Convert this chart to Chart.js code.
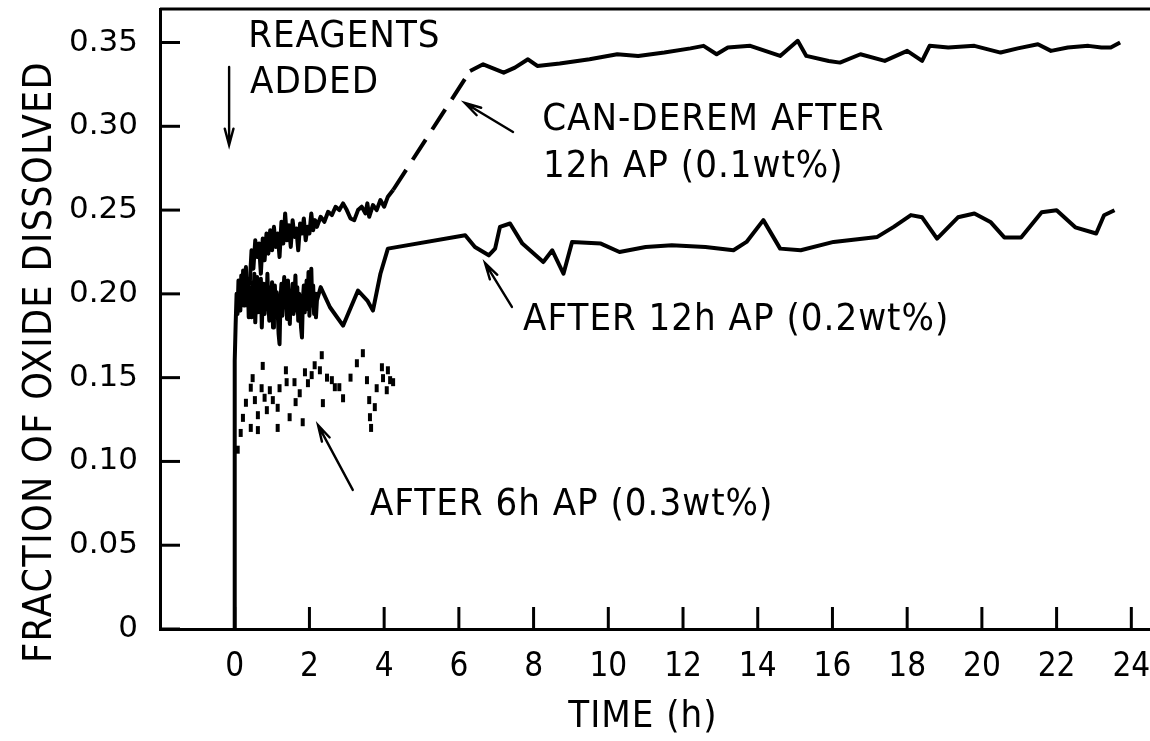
<!DOCTYPE html>
<html>
<head>
<meta charset="utf-8">
<script src="https://cdn.jsdelivr.net/npm/chart.js@4.4.1/dist/chart.umd.min.js"></script>
<style>
  html, body { margin: 0; padding: 0; background: #fff; }
  #wrap { width: 1150px; height: 741px; }
</style>
</head>
<body>
<div id="wrap"><canvas id="oxideChart" width="1150" height="741"></canvas></div>
<script>
// CAN-DEREM after 12h AP (0.1wt%)
const canTime = [0.40, 0.45, 0.50, 0.55, 0.60, 0.65, 0.70, 0.75, 0.80, 0.85, 0.90, 0.95, 1.00, 1.05, 1.10, 1.15, 1.20, 1.25, 1.30, 1.35,
  1.40, 1.45, 1.50, 1.55, 1.60, 1.65, 1.70, 1.75, 1.80, 1.85, 1.90, 1.95, 2.00, 2.05, 2.10, 2.15, 2.20, 2.30, 2.40, 2.50,
  2.60, 2.70, 2.80, 2.90, 3.00, 3.10, 3.20, 3.30, 3.40, 3.50, 3.55, 3.60, 3.70, 3.80, 3.90, 4.00, 4.10, 4.24,
  6.30, 6.65, 7.20, 7.50, 7.85, 8.10, 8.70, 9.50, 10.24, 10.80, 11.50, 12.20, 12.55, 12.90, 13.20, 13.80, 14.60, 15.07, 15.30, 15.90,
  16.20, 16.75, 17.40, 18.00, 18.40, 18.60, 19.10, 19.80, 20.50, 20.96, 21.50, 21.85, 22.30, 22.85, 23.20, 23.45, 23.70]
const canFrac = [0.205, 0.226, 0.215, 0.232, 0.222, 0.230, 0.212, 0.233, 0.220, 0.236, 0.224, 0.238, 0.226, 0.240, 0.228, 0.236, 0.222, 0.243, 0.230, 0.248,
  0.232, 0.241, 0.228, 0.244, 0.234, 0.239, 0.226, 0.242, 0.236, 0.245, 0.232, 0.240, 0.236, 0.248, 0.238, 0.244, 0.240, 0.246, 0.243, 0.249,
  0.247, 0.252, 0.250, 0.254, 0.250, 0.245, 0.244, 0.250, 0.252, 0.248, 0.254, 0.246, 0.253, 0.250, 0.256, 0.252, 0.258, 0.262,
  0.333, 0.337, 0.332, 0.335, 0.340, 0.336, 0.3375, 0.340, 0.343, 0.342, 0.344, 0.3465, 0.348, 0.343, 0.347, 0.348, 0.342, 0.351, 0.342, 0.339,
  0.338, 0.343, 0.339, 0.345, 0.339, 0.348, 0.347, 0.348, 0.344, 0.3465, 0.349, 0.345, 0.347, 0.348, 0.347, 0.347, 0.350]

// after 12h AP (0.2wt%)
const ap2Time = [0, 0,
  0.025, 0.05, 0.075, 0.10, 0.125, 0.15, 0.175, 0.20, 0.225, 0.25, 0.275, 0.30, 0.325, 0.35, 0.375, 0.40, 0.425, 0.45, 0.475, 0.50,
  0.525, 0.55, 0.575, 0.60, 0.625, 0.65, 0.675, 0.70, 0.725, 0.75, 0.775, 0.80, 0.825, 0.85, 0.875, 0.90, 0.925, 0.95, 0.975, 1.00,
  1.025, 1.05, 1.075, 1.10, 1.125, 1.15, 1.175, 1.20, 1.225, 1.25, 1.275, 1.30, 1.325, 1.35, 1.375, 1.40, 1.425, 1.45, 1.475, 1.50,
  1.525, 1.55, 1.575, 1.60, 1.625, 1.65, 1.675, 1.70, 1.725, 1.75, 1.775, 1.80, 1.825, 1.85, 1.875, 1.90, 1.925, 1.95, 1.975, 2.00,
  2.025, 2.05, 2.075, 2.10, 2.125, 2.15, 2.175, 2.20,
  2.30, 2.55, 2.90, 3.30, 3.55, 3.70, 3.90, 4.10, 6.17, 6.43, 6.80, 6.97, 7.10, 7.37,
  7.70, 8.26, 8.50, 8.80, 9.03, 9.80, 10.30, 11.00, 11.70, 12.60, 13.35, 13.70, 14.15, 14.60, 15.15, 16.03, 17.20, 17.64, 18.10, 18.40,
  18.80, 19.36, 19.80, 20.24, 20.60, 21.05, 21.60, 22.00, 22.50, 23.06, 23.27, 23.55]
const ap2Frac = [0, 0.160,
  0.182, 0.200, 0.188, 0.208, 0.195, 0.190, 0.211, 0.198, 0.214, 0.193, 0.206, 0.216, 0.196, 0.209, 0.186, 0.204, 0.192, 0.186, 0.207, 0.195,
  0.212, 0.183, 0.201, 0.210, 0.189, 0.205, 0.194, 0.209, 0.180, 0.198, 0.206, 0.188, 0.203, 0.191, 0.212, 0.195, 0.184, 0.204, 0.193, 0.207,
  0.180, 0.197, 0.205, 0.186, 0.201, 0.190, 0.176, 0.170, 0.196, 0.206, 0.187, 0.199, 0.210, 0.192, 0.203, 0.185, 0.208, 0.196, 0.182, 0.201,
  0.193, 0.206, 0.188, 0.198, 0.211, 0.190, 0.204, 0.184, 0.200, 0.193, 0.180, 0.174, 0.197, 0.205, 0.189, 0.199, 0.208, 0.191, 0.213, 0.187,
  0.202, 0.215, 0.193, 0.205, 0.188, 0.200, 0.186, 0.196,
  0.204, 0.192, 0.181, 0.202, 0.196, 0.190, 0.212, 0.227, 0.235, 0.228, 0.223, 0.227, 0.240, 0.242,
  0.230, 0.219, 0.226, 0.212, 0.231, 0.230, 0.225, 0.228, 0.229, 0.228, 0.226, 0.231, 0.244, 0.227, 0.226, 0.231, 0.234, 0.240, 0.247, 0.2457,
  0.233, 0.2457, 0.248, 0.2427, 0.2337, 0.2337, 0.2487, 0.2499, 0.2397, 0.236, 0.2469, 0.2499]

// after 6h AP (0.3wt%), dotted
const ap3Time = [0.08, 0.16, 0.22, 0.30, 0.43, 0.48, 0.43, 0.54, 0.62, 0.62, 0.75, 0.72, 0.80, 0.86, 0.94, 1.02, 1.15, 1.15, 1.20, 1.37,
  1.39, 1.47, 1.60, 1.63, 1.74, 1.82, 1.88, 1.96, 2.06, 2.14, 2.28, 2.33, 2.36, 2.47, 2.60, 2.68, 2.80, 2.90, 3.10, 3.27,
  3.43, 3.54, 3.60, 3.62, 3.65, 3.75, 3.80, 3.94, 3.97, 4.10, 4.16, 4.24, 4.07]
const ap3Frac = [0.107, 0.117, 0.126, 0.135, 0.144, 0.1497, 0.120, 0.1366, 0.1276, 0.1187, 0.157, 0.1437, 0.138, 0.1306, 0.1425, 0.1366, 0.132, 0.120, 0.1437, 0.1544,
  0.1473, 0.1264, 0.1473, 0.1354, 0.1407, 0.1234, 0.1532, 0.1467, 0.1515, 0.1574, 0.1544, 0.1634, 0.1348, 0.150, 0.1485, 0.1443, 0.1443, 0.1377, 0.150, 0.1586,
  0.1646, 0.1485, 0.1366, 0.1264, 0.120, 0.1324, 0.1437, 0.1562, 0.1497, 0.1544, 0.1485, 0.1473, 0.1425]

const xTicks = [0, 2, 4, 6, 8, 10, 12, 14, 16, 18, 20, 22, 24]
const yTicks = [0, 0.05, 0.10, 0.15, 0.20, 0.25, 0.30, 0.35]

// labels on the plot, placed in data units (left edge, baseline)
const notes = [
  { text: 'REAGENTS', at: [0.36, 0.3473] },
  { text: 'ADDED', at: [0.41, 0.3199] },
  { text: 'CAN-DEREM AFTER', at: [8.23, 0.2978] },
  { text: '12h AP (0.1wt%)', at: [8.25, 0.270] },
  { text: 'AFTER 12h AP (0.2wt%)', at: [7.72, 0.1784] },
  { text: 'AFTER 6h AP (0.3wt%)', at: [3.62, 0.068] }
]
const arrows = [
  { from: [-0.15, 0.3354], to: [-0.15, 0.2888] },
  { from: [7.45, 0.2966], to: [6.16, 0.3139] },
  { from: [7.42, 0.1922], to: [6.70, 0.2184] },
  { from: [3.16, 0.083], to: [2.23, 0.1217] }
]

const pairs = (xs, ys) => xs.map((t, i) => ({ x: t, y: ys[i] }))

const LETTER = "'DejaVu Sans Condensed', 'Liberation Sans Narrow', 'DejaVu Sans', sans-serif"

const decorations = {
  id: 'decorations',
  afterDraw(chart) {
    const ctx = chart.ctx
    const xs = chart.scales.x
    const ys = chart.scales.y
    const area = chart.chartArea
    ctx.save()
    ctx.strokeStyle = '#000'
    ctx.fillStyle = '#000'
    ctx.lineCap = 'butt'

    // top frame line
    ctx.lineWidth = 3
    ctx.beginPath()
    ctx.moveTo(area.left, area.top)
    ctx.lineTo(area.right, area.top)
    ctx.stroke()

    // inward tick marks
    xTicks.forEach(v => {
      const px = xs.getPixelForValue(v)
      ctx.beginPath()
      ctx.moveTo(px, area.bottom)
      ctx.lineTo(px, area.bottom - 22)
      ctx.stroke()
    })
    yTicks.forEach(v => {
      const py = ys.getPixelForValue(v)
      ctx.beginPath()
      ctx.moveTo(area.left, py)
      ctx.lineTo(area.left + 20, py)
      ctx.stroke()
    })

    // arrows
    ctx.lineWidth = 2.4
    ctx.lineCap = 'round'
    arrows.forEach(a => {
      const x0 = xs.getPixelForValue(a.from[0]), y0 = ys.getPixelForValue(a.from[1])
      const x1 = xs.getPixelForValue(a.to[0]), y1 = ys.getPixelForValue(a.to[1])
      const ang = Math.atan2(y1 - y0, x1 - x0)
      ctx.beginPath()
      ctx.moveTo(x0, y0)
      ctx.lineTo(x1, y1)
      ctx.moveTo(x1 - 17 * Math.cos(ang - 0.26), y1 - 17 * Math.sin(ang - 0.26))
      ctx.lineTo(x1, y1)
      ctx.lineTo(x1 - 17 * Math.cos(ang + 0.26), y1 - 17 * Math.sin(ang + 0.26))
      ctx.stroke()
    })

    // notes
    ctx.font = '38px ' + LETTER
    ctx.letterSpacing = '1px'
    ctx.textAlign = 'left'
    ctx.textBaseline = 'alphabetic'
    notes.forEach(n => {
      ctx.fillText(n.text, xs.getPixelForValue(n.at[0]), ys.getPixelForValue(n.at[1]))
    })

    // axis titles
    ctx.textAlign = 'center'
    ctx.textBaseline = 'middle'
    ctx.fillText('TIME (h)', 643, 717)
    ctx.font = '39px ' + LETTER
    ctx.letterSpacing = '1.4px'
    ctx.translate(41, 362)
    ctx.rotate(-Math.PI / 2)
    ctx.fillText('FRACTION OF OXIDE DISSOLVED', 0, 0)
    ctx.restore()
  }
}

const ctx_oxide = document.getElementById('oxideChart').getContext('2d')
const oxideChart = new Chart(ctx_oxide, {
  type: 'line',
  data: {
    datasets: [
      {
        label: 'CAN-DEREM after 12h AP (0.1wt%)',
        data: pairs(canTime, canFrac),
        borderColor: '#000',
        borderWidth: 4,
        pointRadius: 0,
        tension: 0,
        borderJoinStyle: 'round',
        segment: {
          borderDash: c => (c.p0.parsed.x >= 4.2 && c.p1.parsed.x <= 6.35) ? [24, 12] : undefined
        }
      },
      {
        label: 'After 12h AP (0.2wt%)',
        data: pairs(ap2Time, ap2Frac),
        borderColor: '#000',
        borderWidth: 4,
        pointRadius: 0,
        tension: 0,
        borderJoinStyle: 'round'
      },
      {
        label: 'After 6h AP (0.3wt%)',
        data: pairs(ap3Time, ap3Frac),
        showLine: false,
        pointStyle: 'line',
        pointRotation: 90,
        pointRadius: 4,
        pointBorderWidth: 4,
        pointBorderColor: '#000',
        pointBackgroundColor: '#000'
      }
    ]
  },
  options: {
    responsive: false,
    animation: false,
    devicePixelRatio: 1,
    layout: { autoPadding: false, padding: { top: 9, right: 0, left: 0, bottom: 0 } },
    plugins: {
      legend: { display: false },
      tooltip: { enabled: false }
    },
    scales: {
      x: {
        type: 'linear',
        min: -2,
        max: 24.5,
        afterFit: s => {
          s.height = 112
          s.paddingLeft = 0
          s.paddingRight = 0
        },
        afterBuildTicks: s => { s.ticks = xTicks.map(v => ({ value: v })) },
        grid: { display: false },
        border: { display: true, color: '#000', width: 3 },
        ticks: {
          color: '#000',
          padding: 11,
          maxRotation: 0,
          autoSkip: false,
          font: { family: LETTER, size: 33 },
          callback: v => String(v)
        }
      },
      y: {
        type: 'linear',
        min: 0,
        max: 0.37,
        afterFit: s => {
          s.width = 160
          s.paddingTop = 0
          s.paddingBottom = 0
        },
        afterBuildTicks: s => { s.ticks = yTicks.map(v => ({ value: v })) },
        grid: { display: false },
        border: { display: true, color: '#000', width: 3 },
        ticks: {
          color: '#000',
          padding: 14,
          autoSkip: false,
          font: { family: "'DejaVu Sans', sans-serif", size: 31 },
          callback: v => v === 0 ? '0' : v.toFixed(2)
        }
      }
    }
  },
  plugins: [decorations]
})
</script>
</body>
</html>
